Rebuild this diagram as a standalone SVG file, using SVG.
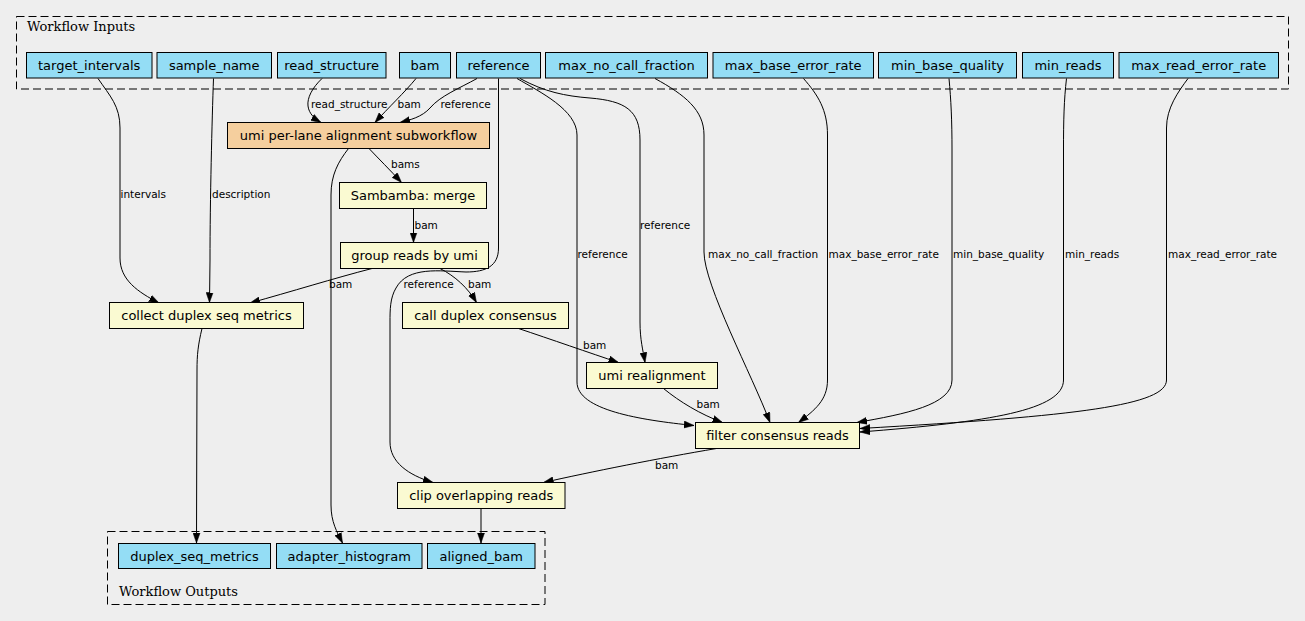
<svg xmlns="http://www.w3.org/2000/svg" width="1305" height="621" viewBox="0 0 1305 621">
<style>
.bg{fill:#eeeeee}
.cluster{fill:none;stroke:#000;stroke-width:1;stroke-dasharray:8,4}
.ctitle{font-family:"DejaVu Serif","Liberation Serif",serif;font-size:13px;fill:#000}
.io{fill:#94ddf5;stroke:#000;stroke-width:1}
.task{fill:#fafad2;stroke:#000;stroke-width:1}
.sub{fill:#f5cf9e;stroke:#000;stroke-width:1}
.lbl{font-family:"DejaVu Sans","Noto Sans",sans-serif;font-size:13px;fill:#000;text-anchor:middle}
.el{font-family:"DejaVu Sans","Noto Sans",sans-serif;font-size:10.5px;fill:#000}
.e{fill:none;stroke:#000;stroke-width:1;marker-end:url(#arr)}
</style>
<defs>
<marker id="arr" markerUnits="userSpaceOnUse" markerWidth="10" markerHeight="8" refX="10" refY="3.5" orient="auto" viewBox="0 0 10 7">
<path d="M0,0 L10,3.5 L0,7 z" fill="#000" stroke="#000" stroke-width="0.5"/>
</marker>
</defs>
<rect class="bg" x="0" y="0" width="1305" height="621"/>

<g id="cluster_inputs">
<rect class="cluster" x="16.5" y="16.5" width="1272" height="72.5"/>
<text class="ctitle" x="27" y="31">Workflow Inputs</text>
</g>
<g id="cluster_outputs">
<rect class="cluster" x="107.5" y="531.5" width="437.5" height="73"/>
<text class="ctitle" x="119" y="596">Workflow Outputs</text>
</g>

<g id="connectors">
<path class="e" d="M98,78.5 C110,96 120,106 120,128 L120,258 C120,280 138,292 159,303"/>
<text class="el" x="120.5" y="198">intervals</text>
<path class="e" d="M213.5,78.5 C212,120 210,200 210,260 L209.5,302.5"/>
<text class="el" x="212" y="198">description</text>
<path class="e" d="M322,78.5 C312,88 307,98 308,106 C309,114 315,119 321,122.5"/>
<text class="el" x="311" y="108">read_structure</text>
<path class="e" d="M416,78.5 C405,92 388,108 375,122.5"/>
<text class="el" x="397.5" y="108">bam</text>
<path class="e" d="M477,78.5 C460,88 440,96 430,108 C422,117 410,120 400,122.5"/>
<text class="el" x="440.5" y="108">reference</text>
<path class="e" d="M498.5,78.5 L498.5,248 C498.5,266 486,272 466,272 C440,271 408,266 396,288 C390,298 390,310 390,322 L390,442 C390,462 408,475 433,482.5"/>
<text class="el" x="403.5" y="288">reference</text>
<path class="e" d="M517,78.5 C540,92 577,110 577,135 L577,382 C577,410 640,420 694,425.5"/>
<text class="el" x="577.5" y="257.5">reference</text>
<path class="e" d="M520,78.5 C545,92 565,96 590,98 C625,101 640,110 640,140 L640,322 C640,340 643,350 645,362.5"/>
<text class="el" x="640" y="228.5">reference</text>
<path class="e" d="M655,78.5 C685,95 704,110 704,135 L704,252 C704,285 752,375 770,422.5"/>
<text class="el" x="708" y="257.5">max_no_call_fraction</text>
<path class="e" d="M803.5,78.5 C818,95 827.5,110 827.5,135 L827.5,380 C827.5,400 815,410 798.5,422.5"/>
<text class="el" x="828.5" y="257.5">max_base_error_rate</text>
<path class="e" d="M949,78.5 C951,100 952,120 952,150 L952,380 C952,405 905,414 857,422.5"/>
<text class="el" x="953" y="257.5">min_base_quality</text>
<path class="e" d="M1066.5,78.5 C1064,100 1063.5,120 1063.5,150 L1063.5,380 C1063.5,410 990,422 860,432"/>
<text class="el" x="1065" y="257.5">min_reads</text>
<path class="e" d="M1188,78.5 C1178,92 1166.5,108 1166.5,128 L1166.5,380 C1166.5,405 1080,416 860,428.5"/>
<text class="el" x="1168" y="257.5">max_read_error_rate</text>
<path class="e" d="M369,148.5 C378,158 390,170 401.5,182.5"/>
<text class="el" x="391" y="167.5">bams</text>
<path class="e" d="M348.5,148.5 C338,162 331,175 331,195 L331,505 C331,522 337,532 342.5,543"/>
<path class="e" d="M413.5,208.5 L413.5,242.5"/>
<text class="el" x="414.5" y="228.5">bam</text>
<path class="e" d="M372,268.5 C335,278 290,292 250,303"/>
<text class="el" x="329" y="288">bam</text>
<path class="e" d="M440,268.5 C455,276 468,288 476.5,302.5"/>
<text class="el" x="468" y="288">bam</text>
<path class="e" d="M518.5,328.5 C550,339 590,353 618.5,362.5"/>
<text class="el" x="583" y="348.5">bam</text>
<path class="e" d="M663.5,388.5 C680,402 700,414 722.5,422.5"/>
<text class="el" x="696.5" y="407.5">bam</text>
<path class="e" d="M716.5,448.5 C660,458 590,472 543.5,482.5"/>
<text class="el" x="655" y="468.5">bam</text>
<path class="e" d="M202,328.5 C198,345 197,355 197,370 L196.5,543"/>
<path class="e" d="M481,508.5 L481,543"/>
</g>

<g id="target_intervals"><rect class="io" x="26.5" y="52.5" width="125.5" height="25.5"/><text class="lbl" x="89.2" y="69.5">target_intervals</text></g>
<g id="sample_name"><rect class="io" x="157" y="52.5" width="114.5" height="25.5"/><text class="lbl" x="214.2" y="69.5">sample_name</text></g>
<g id="read_structure"><rect class="io" x="277.5" y="52.5" width="108.5" height="25.5"/><text class="lbl" x="331.7" y="69.5">read_structure</text></g>
<g id="bam"><rect class="io" x="399.5" y="52.5" width="51" height="25.5"/><text class="lbl" x="425" y="69.5">bam</text></g>
<g id="reference"><rect class="io" x="456.5" y="52.5" width="84" height="25.5"/><text class="lbl" x="498.5" y="69.5">reference</text></g>
<g id="max_no_call_fraction"><rect class="io" x="545.5" y="52.5" width="162" height="25.5"/><text class="lbl" x="626.5" y="69.5">max_no_call_fraction</text></g>
<g id="max_base_error_rate"><rect class="io" x="713" y="52.5" width="160.5" height="25.5"/><text class="lbl" x="793.2" y="69.5">max_base_error_rate</text></g>
<g id="min_base_quality"><rect class="io" x="878.5" y="52.5" width="138" height="25.5"/><text class="lbl" x="947.5" y="69.5">min_base_quality</text></g>
<g id="min_reads"><rect class="io" x="1022.5" y="52.5" width="91" height="25.5"/><text class="lbl" x="1068" y="69.5">min_reads</text></g>
<g id="max_read_error_rate"><rect class="io" x="1119" y="52.5" width="159.5" height="25.5"/><text class="lbl" x="1198.7" y="69.5">max_read_error_rate</text></g>

<g id="umi_per_lane"><rect class="sub" x="227.5" y="122.5" width="262" height="26"/><text class="lbl" x="358.5" y="140">umi per-lane alignment subworkflow</text></g>
<g id="sambamba_merge"><rect class="task" x="339.5" y="182.5" width="147" height="26"/><text class="lbl" x="413" y="200">Sambamba: merge</text></g>
<g id="group_reads"><rect class="task" x="340.5" y="242.5" width="148" height="26"/><text class="lbl" x="414.5" y="260">group reads by umi</text></g>
<g id="collect_metrics"><rect class="task" x="109.5" y="302.5" width="194" height="26"/><text class="lbl" x="206.5" y="320">collect duplex seq metrics</text></g>
<g id="call_duplex"><rect class="task" x="402.5" y="302.5" width="166" height="26"/><text class="lbl" x="485.5" y="320">call duplex consensus</text></g>
<g id="umi_realignment"><rect class="task" x="586.5" y="362.5" width="131" height="26"/><text class="lbl" x="652" y="380">umi realignment</text></g>
<g id="filter_consensus"><rect class="task" x="695.5" y="422.5" width="164" height="26"/><text class="lbl" x="777.5" y="440">filter consensus reads</text></g>
<g id="clip_overlapping"><rect class="task" x="397.5" y="482.5" width="167.5" height="26"/><text class="lbl" x="481.2" y="500">clip overlapping reads</text></g>

<g id="duplex_seq_metrics"><rect class="io" x="118.5" y="543.5" width="152" height="25"/><text class="lbl" x="194.5" y="560.5">duplex_seq_metrics</text></g>
<g id="adapter_histogram"><rect class="io" x="276.5" y="543.5" width="145.5" height="25"/><text class="lbl" x="349.2" y="560.5">adapter_histogram</text></g>
<g id="aligned_bam"><rect class="io" x="427.5" y="543.5" width="107.5" height="25"/><text class="lbl" x="481.2" y="560.5">aligned_bam</text></g>
</svg>
